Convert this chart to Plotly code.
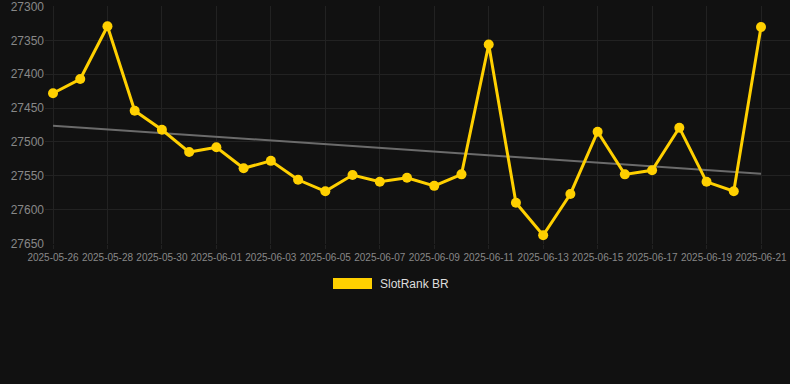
import plotly.graph_objects as go

dates = ["2025-05-26", "2025-05-27", "2025-05-28", "2025-05-29", "2025-05-30", "2025-05-31",
         "2025-06-01", "2025-06-02", "2025-06-03", "2025-06-04", "2025-06-05", "2025-06-06",
         "2025-06-07", "2025-06-08", "2025-06-09", "2025-06-10", "2025-06-11", "2025-06-12",
         "2025-06-13", "2025-06-14", "2025-06-15", "2025-06-16", "2025-06-17", "2025-06-18",
         "2025-06-19", "2025-06-20", "2025-06-21"]
rank = [27428, 27407, 27329, 27454, 27482, 27515, 27508, 27539, 27528, 27556, 27573, 27549,
        27559, 27553, 27565, 27548, 27356, 27590, 27638, 27577, 27485, 27548, 27542, 27479,
        27559, 27573, 27330]
trend_dates = ["2025-05-26", "2025-06-21"]
trend_vals = [27476, 27547]
y_ticks = [27300, 27350, 27400, 27450, 27500, 27550, 27600, 27650]
x_ticks = dates[::2]

BG = "#111111"
YEL = "#FFD000"

fig = go.Figure()
fig.add_trace(go.Scatter(x=trend_dates, y=trend_vals, mode="lines",
                         line=dict(color="#6b6b6b", width=2), showlegend=False,
                         hoverinfo="skip"))
fig.add_trace(go.Scatter(x=dates, y=rank, mode="lines+markers", name="SlotRank BR",
                         line=dict(color=YEL, width=3), marker=dict(color=YEL, size=10),
                         showlegend=False))

fig.update_layout(
    width=790, height=384, paper_bgcolor=BG, plot_bgcolor=BG,
    margin=dict(l=45, r=0, t=6, b=140),
    font=dict(family="Liberation Sans, Arial, sans-serif", color="#888888"),
    xaxis=dict(range=["2025-05-25 16:57", "2025-06-22 01:33"], tickvals=x_ticks,
               ticktext=x_ticks, tickfont=dict(size=10, color="#888888"),
               showgrid=True, gridcolor="#222222", gridwidth=1, zeroline=False,
               showline=False, ticks="outside", ticklen=4, tickcolor="#222222"),
    yaxis=dict(range=[27651, 27299], tickvals=y_ticks, ticktext=[str(v) for v in y_ticks],
               tickfont=dict(size=12, color="#888888"), ticklabeloverflow="allow",
               showgrid=True, gridcolor="#222222", gridwidth=1, zeroline=False,
               showline=False, ticks="", ticklabelstandoff=0),
    shapes=[dict(type="rect", xref="paper", yref="paper",
                 x0=(333 - 45) / 745, x1=(372 - 45) / 745,
                 y0=(384 - 140 - 289) / 238, y1=(384 - 140 - 278) / 238,
                 fillcolor=YEL, line=dict(width=0))],
    annotations=[dict(text="SlotRank BR", xref="paper", yref="paper",
                      x=(378 - 45) / 745, y=(384 - 140 - 284) / 238,
                      xanchor="left", yanchor="middle", showarrow=False,
                      font=dict(size=12, color="#dddddd"))],
)

fig.write_html("out.html", config={"displayModeBar": False},
               post_script="document.body.style.margin='0';document.body.style.background='#111111';")
